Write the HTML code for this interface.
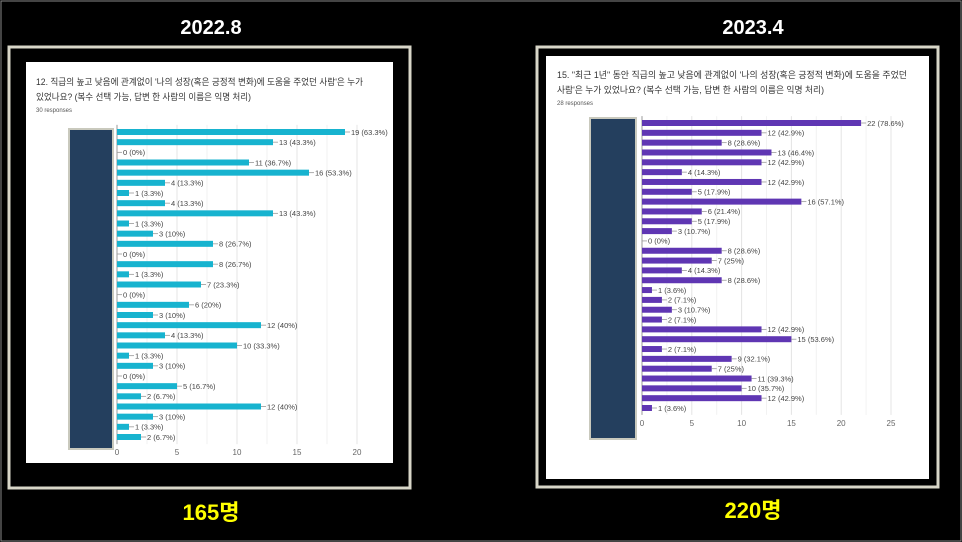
<!DOCTYPE html>
<html><head><meta charset="utf-8"><style>
html,body{margin:0;padding:0;background:#000;}
body{width:962px;height:542px;overflow:hidden;position:relative;font-family:"Liberation Sans","Noto Sans CJK KR",sans-serif;}
svg{position:absolute;left:0;top:0;}
</style></head><body>
<svg id="c" width="962" height="542">
<rect x="1" y="1" width="960" height="540" fill="#000" stroke="#888" stroke-width="1"/>
</svg>
<script>
const leftValues=[19,13,0,11,16,4,1,4,13,1,3,8,0,8,1,7,0,6,3,12,4,10,1,3,0,5,2,12,3,1,2];
const leftTicks=[0,5,10,15,20];
const leftN=30;
const rightValues=[22,12,8,13,12,4,12,5,16,6,5,3,0,8,7,4,8,1,2,3,2,12,15,2,9,7,11,10,12,1];
const rightTicks=[0,5,10,15,20,25];
const rightN=28;

const NS="http://www.w3.org/2000/svg";
const svg=document.getElementById('c');
function mk(tag,attrs,parent,text){const e=document.createElementNS(NS,tag);for(const k in attrs)e.setAttribute(k,attrs[k]);if(text!==undefined)e.textContent=text;(parent||svg).appendChild(e);return e;}

function panel(cfg){
  const g=mk('g',{});
  
  
  const fr=mk('rect',{x:cfg.fx,y:cfg.fy,width:cfg.fw,height:cfg.fh,fill:'none',stroke:'#d8d6c8','stroke-width':3},g);
  
  
  const wp=mk('rect',{x:cfg.wx,y:cfg.wy,width:cfg.ww,height:cfg.wh,fill:'#fff'},g);
  
  
  const t=mk('text',{x:cfg.cx,y:34,'text-anchor':'middle',fill:'#fff','font-size':20,'font-weight':'bold'},g,cfg.title);
  
  
  const c=mk('text',{x:cfg.cx,y:cfg.countY,'text-anchor':'middle',fill:'#ffff00','font-size':22,'font-weight':'bold'},g,cfg.count);
  
  
  cfg.q.forEach((line,i)=>{
    const q=mk('text',{x:cfg.qx,y:cfg.qy+i*15,fill:'#333','font-size':9,textLength:cfg.qw[i],lengthAdjust:'spacingAndGlyphs'},g,line);
    
    
  });
  const r=mk('text',{x:cfg.qx,y:cfg.qy+cfg.q.length*15-3,fill:'#555','font-size':6},g,cfg.resp);
  
  
  const d=mk('rect',{x:cfg.dx,y:cfg.dy,width:cfg.dw,height:cfg.dh,fill:'#243f5e',stroke:'#c9c9bd','stroke-width':2},g);
  
  
  const xs=v=>cfg.x0+v*cfg.unit;
  const n=cfg.values.length;
  const step=(cfg.yLast-cfg.yFirst)/(n-1);
  const ys=i=>cfg.yFirst+i*step;
  const bottom=ys(n-1)+step/2+2;
  const maxT=cfg.ticks[cfg.ticks.length-1];
  for(let v=0;v<=maxT;v+=2.5){
    const gl=mk('line',{x1:xs(v),x2:xs(v),y1:ys(0)-step/2-2,y2:bottom,stroke:v%5===0?'#e4e4e4':'#f2f2f2','stroke-width':1},g);
    
    
  }
  const ax=mk('line',{x1:xs(0),x2:xs(0),y1:ys(0)-step/2-2,y2:bottom,stroke:'#999','stroke-width':1},g);
  
  
  cfg.ticks.forEach(tv=>{
    const tl=mk('text',{x:xs(tv),y:cfg.tickY,'text-anchor':'middle',fill:'#666','font-size':8},g,String(tv));
    
    
  });
  cfg.values.forEach((v,i)=>{
    const y=ys(i);
    if(v>0){
      const b=mk('rect',{x:xs(0),y:y-3,width:xs(v)-xs(0),height:6,fill:cfg.color},g);
      
      
    }
    const ex=xs(v);
    const ln=mk('line',{x1:ex,x2:ex+5,y1:y,y2:y,stroke:'#999','stroke-width':0.8},g);
    
    
    const pct=Math.round(v/cfg.N*1000)/10;
    const lb=mk('text',{x:ex+6,y:y+2.8,fill:'#444','font-size':7.5},g,v+' ('+pct+'%)');
    
    
  });
}

panel({name:'panel-2022',fx:9,fy:47,fw:401,fh:441,wx:26,wy:62,ww:367,wh:401,cx:211,title:'2022.8',count:'165명',countY:520,
  q:["12. 직급의 높고 낮음에 관계없이 '나의 성장(혹은 긍정적 변화)에 도움을 주었던 사람'은  누가","있었나요? (복수 선택 가능, 답변 한 사람의 이름은 익명 처리)"],
  qw:[327,215],
  qx:36,qy:85,resp:'30 responses',dx:69,dy:129,dw:44,dh:320,
  values:leftValues,ticks:leftTicks,N:leftN,x0:117,unit:12,yFirst:132,yLast:437,tickY:455,color:'#17b3cf'});

panel({name:'panel-2023',fx:537,fy:47,fw:401,fh:440,wx:546,wy:56,ww:383,wh:423,cx:753,title:'2023.4',count:'220명',countY:518,
  q:["15. \"최근 1년\" 동안 직급의 높고 낮음에 관계없이 '나의 성장(혹은 긍정적 변화)에 도움을 주었던","사람'은  누가 있었나요? (복수 선택 가능, 답변 한 사람의 이름은 익명 처리)"],
  qw:[350,267],
  qx:557,qy:78,resp:'28 responses',dx:590,dy:118,dw:46,dh:321,
  values:rightValues,ticks:rightTicks,N:rightN,x0:642,unit:9.96,yFirst:123,yLast:408,tickY:426,color:'#5f36b3'});
</script>
</body></html>
